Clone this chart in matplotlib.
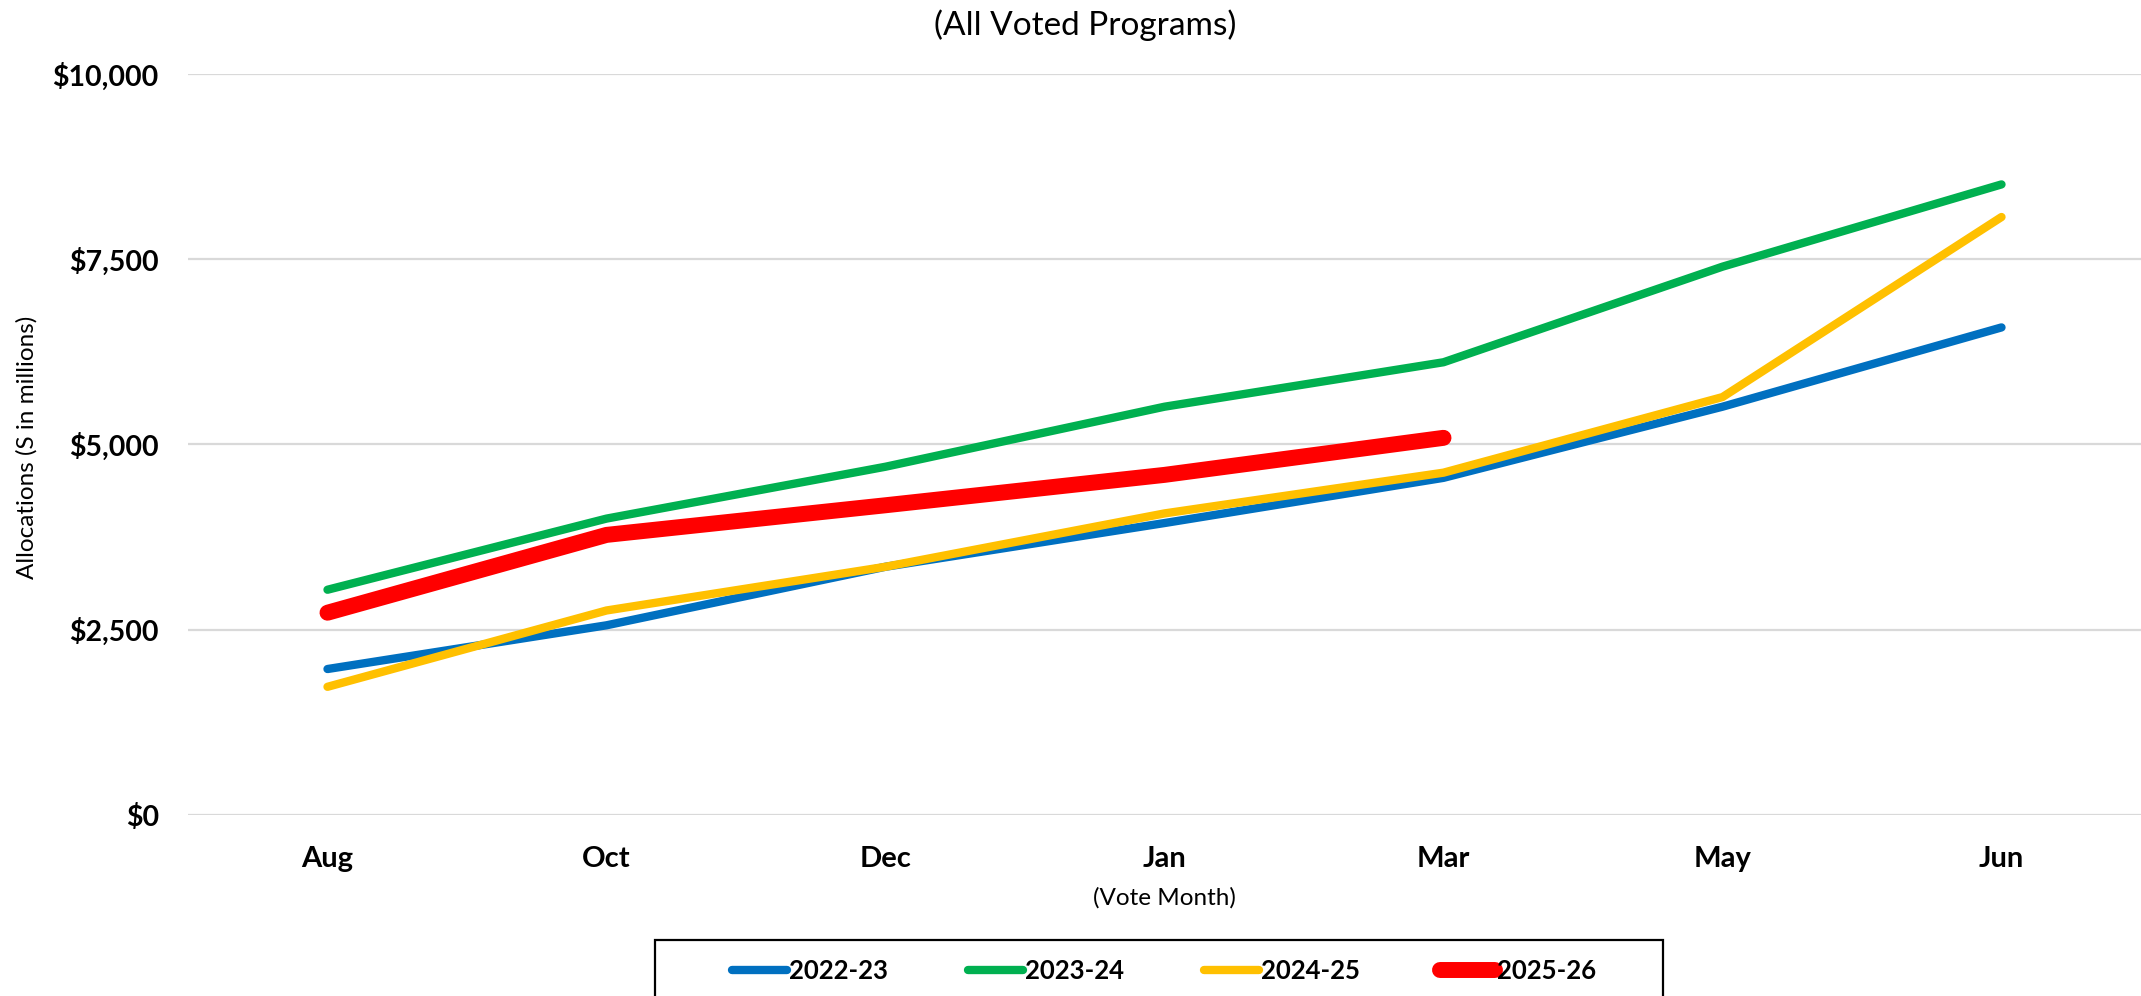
import matplotlib
matplotlib.use("Agg")
import matplotlib.pyplot as plt
from matplotlib.patches import Rectangle
from matplotlib.ticker import FuncFormatter

# vote months and allocations ($ in millions)
months = ["Aug", "Oct", "Dec", "Jan", "Mar", "May", "Jun"]
fy_2022_23 = [1970, 2560, 3350, 3940, 4550, 5510, 6580]
fy_2023_24 = [3040, 4000, 4700, 5510, 6110, 7400, 8510]
fy_2024_25 = [1730, 2760, 3350, 4070, 4620, 5640, 8070]
fy_2025_26 = [2730, 3780, 4180, 4590, 5090]

series = [
    ("2022-23", fy_2022_23, "#0070C0", 6),
    ("2023-24", fy_2023_24, "#00B050", 6),
    ("2024-25", fy_2024_25, "#FFC000", 6),
    ("2025-26", fy_2025_26, "#FF0000", 11.5),
]

plt.rcParams['font.family'] = ['Lato', 'DejaVu Sans']

W, H = 2141, 996
fig = plt.figure(figsize=(W / 100, H / 100), dpi=100)
ax = fig.add_axes([188 / W, 1 - 815 / H, (W - 188) / W, (815 - 74) / H])

x = list(range(len(months)))
for name, vals, col, lw in series:
    ax.plot(x[:len(vals)], vals, color=col, lw=lw, label=name,
            solid_capstyle='round', solid_joinstyle='round')

ax.set_xlim(-0.5, len(months) - 0.5)
ax.set_ylim(0, 10000)
ax.set_yticks([0, 2500, 5000, 7500, 10000])
ax.yaxis.set_major_formatter(FuncFormatter(lambda v, p: f"${v:,.0f}"))
ax.set_xticks(x)
ax.set_xticklabels(months)
ax.grid(axis='y', color='#D9D9D9', lw=1.6)
ax.set_axisbelow(True)
for s in ax.spines.values():
    s.set_visible(False)
ax.tick_params(length=0)
ax.tick_params(axis='y', pad=21, labelsize=20.5)
ax.tick_params(axis='x', pad=22, labelsize=21)
for lab in ax.get_xticklabels() + ax.get_yticklabels():
    lab.set_fontweight('bold')

ax.set_xlabel("(Vote Month)", fontsize=17.5, labelpad=11)
fig.text(27 / W, 1 - 447 / H, "Allocations (S in millions)", rotation=90,
         ha='center', va='center', fontsize=17.5)
fig.text(1085 / W, 1 - 25 / H, "(All Voted Programs)", ha='center',
         va='center', fontsize=24)

# legend box runs off the bottom edge, as in the original
fig.patches.append(Rectangle((655 / W, -0.02), (1663 - 655) / W, 0.02 + 1 - 940 / H,
                             transform=fig.transFigure, fill=False,
                             edgecolor='black', lw=1.6))
fig.legend(loc='center', bbox_to_anchor=(1164 / W, 1 - 971 / H), ncol=4,
           frameon=False, prop={'weight': 'bold', 'size': 18.5},
           handlelength=2.15, handletextpad=0.08, columnspacing=3.1)

fig.savefig("out.png", dpi=100)
